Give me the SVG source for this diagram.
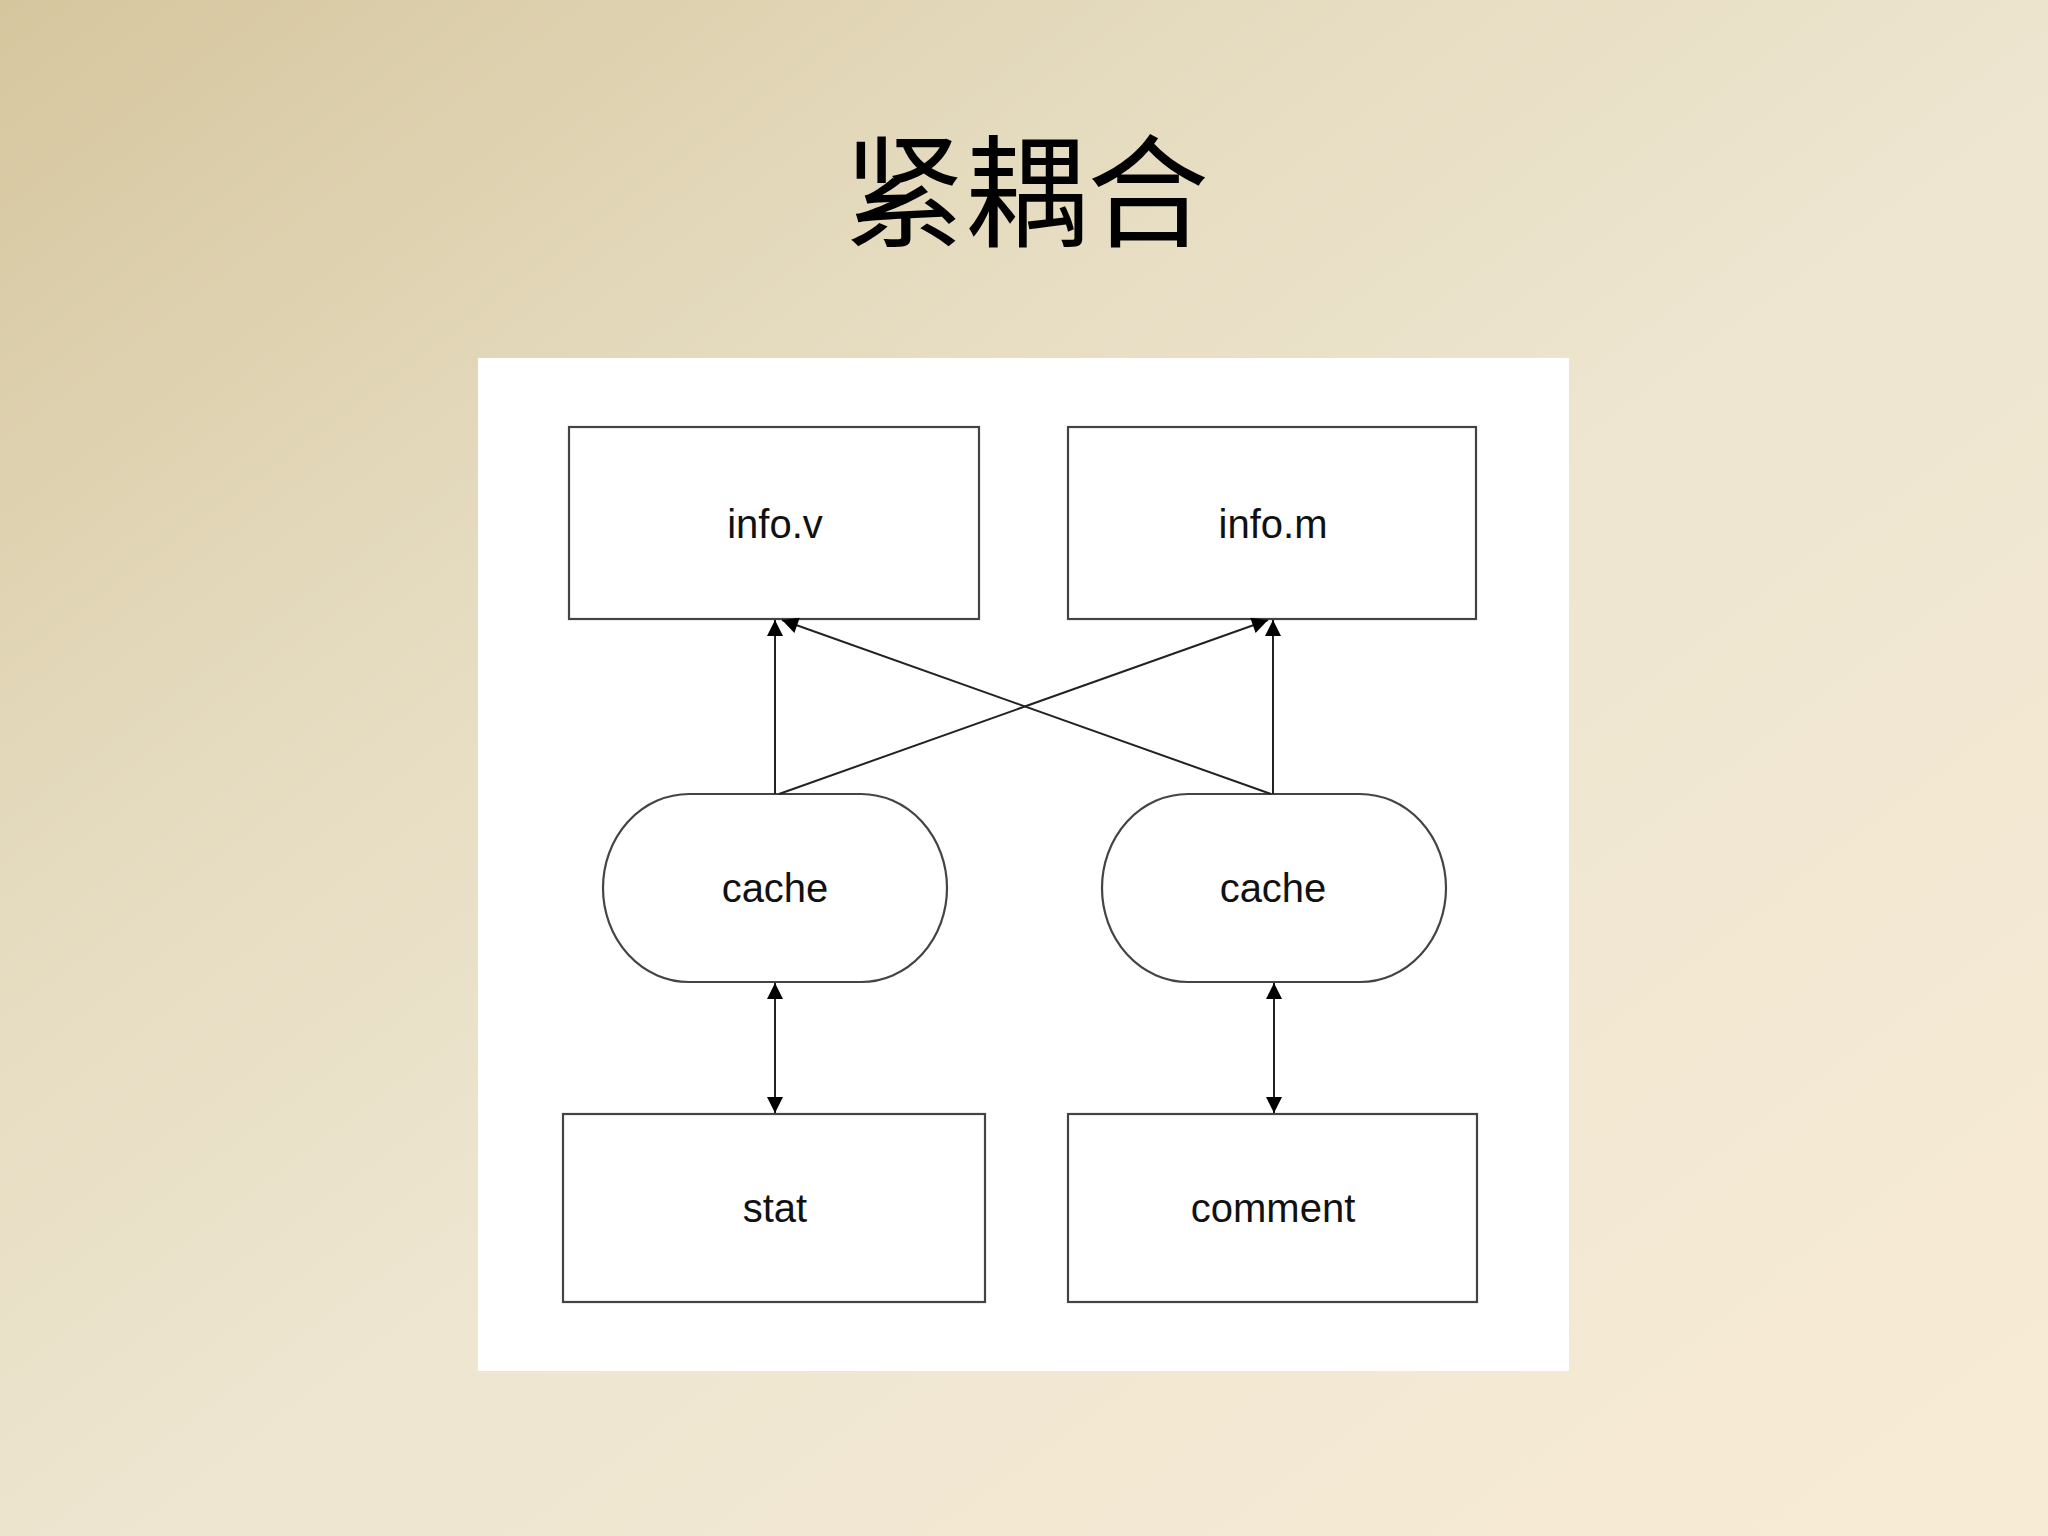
<svg xmlns="http://www.w3.org/2000/svg" width="2048" height="1536" viewBox="0 0 2048 1536">
<defs>
<linearGradient id="bg" x1="0" y1="0" x2="1" y2="1">
<stop offset="0" stop-color="#d6c69e"/>
<stop offset="0.3" stop-color="#e5dbbf"/>
<stop offset="0.55" stop-color="#eee6d1"/>
<stop offset="1" stop-color="#f8ebd5"/>
</linearGradient>
<marker id="ah" viewBox="0 0 16 16" refX="16" refY="8" markerWidth="17" markerHeight="16" markerUnits="userSpaceOnUse" orient="auto-start-reverse">
<path d="M0,0 L16,8 L0,16 Z" fill="#000"/>
</marker>
<style>
.box{fill:#fff;stroke:#444;stroke-width:2.2}
.lbl{font-family:"Liberation Sans",Arial,sans-serif;font-size:40px;fill:#111;text-anchor:middle}
.con{stroke:#222;stroke-width:2;fill:none}
</style>
</defs>
<rect width="2048" height="1536" fill="url(#bg)"/>
<text x="1026" y="237" font-family="'Noto Sans CJK SC',sans-serif" font-size="122" fill="#000" text-anchor="middle">紧耦合</text>
<rect x="478" y="358" width="1091" height="1013" fill="#fff"/>
<g id="infov"><rect class="box" x="569" y="427" width="410" height="192"/><text class="lbl" x="775" y="538">info.v</text></g>
<g id="infom"><rect class="box" x="1068" y="427" width="408" height="192"/><text class="lbl" x="1273" y="538">info.m</text></g>
<g id="cache1"><rect class="box" x="603" y="794" width="344" height="188" rx="86" ry="94"/><text class="lbl" x="775" y="902">cache</text></g>
<g id="cache2"><rect class="box" x="1102" y="794" width="344" height="188" rx="86" ry="94"/><text class="lbl" x="1273" y="902">cache</text></g>
<g id="stat"><rect class="box" x="563" y="1114" width="422" height="188"/><text class="lbl" x="775" y="1222">stat</text></g>
<g id="comment"><rect class="box" x="1068" y="1114" width="409" height="188"/><text class="lbl" x="1273" y="1222">comment</text></g>
<g id="connectors">
<line class="con" x1="775" y1="794" x2="775" y2="620" marker-end="url(#ah)"/>
<line class="con" x1="779" y1="794" x2="1268" y2="620" marker-end="url(#ah)"/>
<line class="con" x1="1271" y1="794" x2="782" y2="620" marker-end="url(#ah)"/>
<line class="con" x1="1273" y1="794" x2="1273" y2="620" marker-end="url(#ah)"/>
<line class="con" x1="775" y1="983" x2="775" y2="1113" marker-start="url(#ah)" marker-end="url(#ah)"/>
<line class="con" x1="1274" y1="983" x2="1274" y2="1113" marker-start="url(#ah)" marker-end="url(#ah)"/>
</g>
</svg>
